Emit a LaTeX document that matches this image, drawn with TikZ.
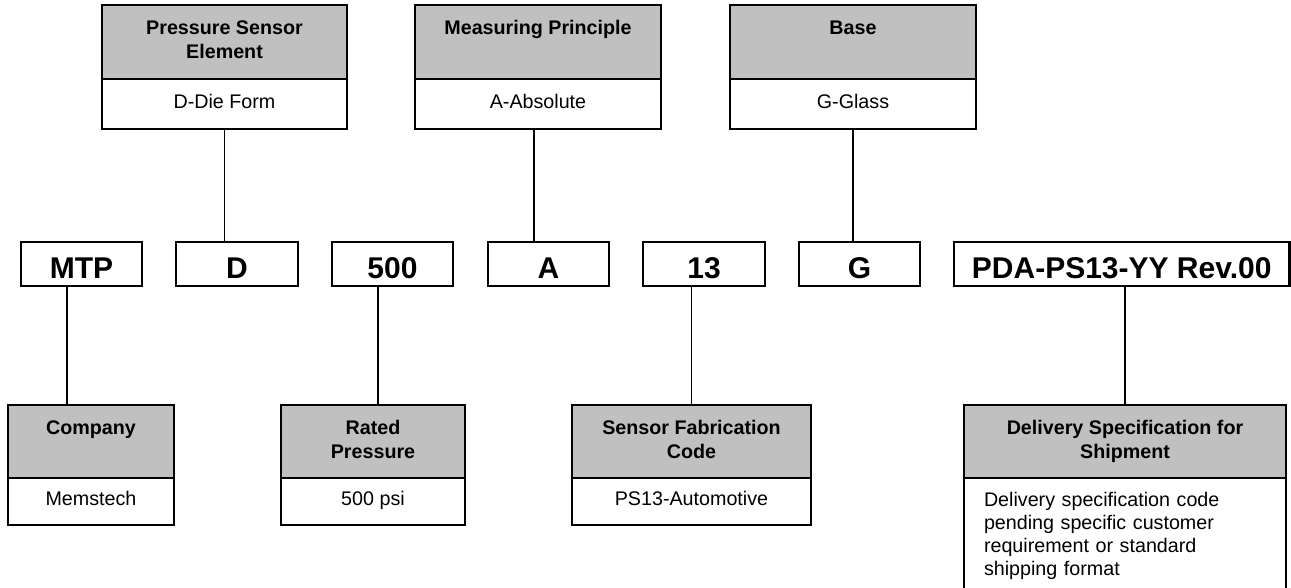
\documentclass[tikz,border=0pt]{standalone}
\usepackage{fontspec}
\setmainfont{Liberation Sans}
\usetikzlibrary{positioning}
\definecolor{hdgray}{RGB}{192,192,192}
\newcommand{\headfont}{\bfseries\fontsize{19.7}{24}\selectfont}
\newcommand{\bodyfont}{\fontsize{19.7}{23}\selectfont}
\newcommand{\codefont}{\bfseries\fontsize{30}{36}\selectfont}

\begin{document}
\begin{tikzpicture}[x=1pt,y=-1pt,
  headbox/.style={draw,fill=hdgray,line width=1.3pt,outer sep=0pt,inner sep=0pt},
  headlbl/.style={anchor=north,yshift=-15.5pt,inner sep=0pt,align=center,font=\headfont},
  bodybox/.style={draw,fill=white,line width=1.3pt,outer sep=0pt,inner sep=0pt,font=\bodyfont},
  bodytxt/.style={bodybox,text height=14.4pt,text depth=6pt},
  codebox/.style={draw,line width=2.7pt,outer sep=0pt,inner sep=0pt,minimum height=44,
    text height=28.6pt,text depth=0pt,font=\codefont},
  link/.style={line width=1.1pt}]
  \useasboundingbox (0,0) rectangle (1291,588);
  % top boxes
  \node[headbox,minimum width=245,minimum height=74,label={[headlbl]north:Pressure Sensor\\Element}] (pse) at (224.5,42) {};
  \node[bodytxt,minimum width=245,minimum height=50,below=0pt of pse] (pseb) {D-Die Form};
  \node[headbox,minimum width=246,minimum height=74,label={[headlbl]north:Measuring Principle}] (msp) at (538,42) {};
  \node[bodytxt,minimum width=246,minimum height=50,below=0pt of msp] (mspb) {A-Absolute};
  \node[headbox,minimum width=246,minimum height=74,label={[headlbl]north:Base}] (base) at (853,42) {};
  \node[bodytxt,minimum width=246,minimum height=50,below=0pt of base] (baseb) {G-Glass};
  % code row
  \node[codebox,minimum width=121] (cmtp) at (81.5,264) {MTP};
  \node[codebox,minimum width=122] (cd) at (237,264) {D};
  \node[codebox,minimum width=121] (c500) at (392.5,264) {500};
  \node[codebox,minimum width=121] (ca) at (548.5,264) {A};
  \node[codebox,minimum width=122] (c13) at (704,264) {13};
  \node[codebox,line width=2pt,minimum width=121] (cg) at (859.5,264) {G};
  \node[codebox,minimum width=335.5] (cpda) at (1121.75,264) {PDA-PS13-YY Rev.00};
  % bottom boxes
  \node[headbox,minimum width=166,minimum height=73,label={[headlbl]north:Company}] (comp) at (91,441.5) {};
  \node[bodytxt,minimum width=166,minimum height=47,below=0pt of comp] (compb) {Memstech};
  \node[headbox,minimum width=184,minimum height=73,label={[headlbl]north:Rated\\Pressure}] (rated) at (373,441.5) {};
  \node[bodytxt,minimum width=184,minimum height=47,below=0pt of rated] (ratedb) {500 psi};
  \node[headbox,minimum width=239,minimum height=73,label={[headlbl]north:Sensor Fabrication\\Code}] (fab) at (691.5,441.5) {};
  \node[bodytxt,minimum width=239,minimum height=47,below=0pt of fab] (fabb) {PS13-Automotive};
  \node[headbox,minimum width=322,minimum height=73,label={[headlbl]north:Delivery Specification for\\Shipment}] (deliv) at (1125,441.5) {};
  \node[bodybox,text width=282,inner xsep=20pt,inner ysep=14.7pt,align=left,below=0pt of deliv] (delivb)
    {Delivery specification code\\pending specific customer\\requirement or standard\\shipping format};
  % connectors
  \draw[link] (pseb.south) -- (pseb.south |- cd.north);
  \draw[link] ([xshift=-4pt]mspb.south) -- ([xshift=-4pt]mspb.south |- ca.north);
  \draw[link] (baseb.south) -- (baseb.south |- cg.north);
  \draw[link] ([xshift=-14.5pt]cmtp.south) -- ([xshift=-14.5pt]cmtp.south |- comp.north);
  \draw[link] ([xshift=-14.5pt]c500.south) -- ([xshift=-14.5pt]c500.south |- rated.north);
  \draw[link] (fab.north) -- (fab.north |- c13.south);
  \draw[link] (deliv.north) -- (deliv.north |- cpda.south);
\end{tikzpicture}
\end{document}
